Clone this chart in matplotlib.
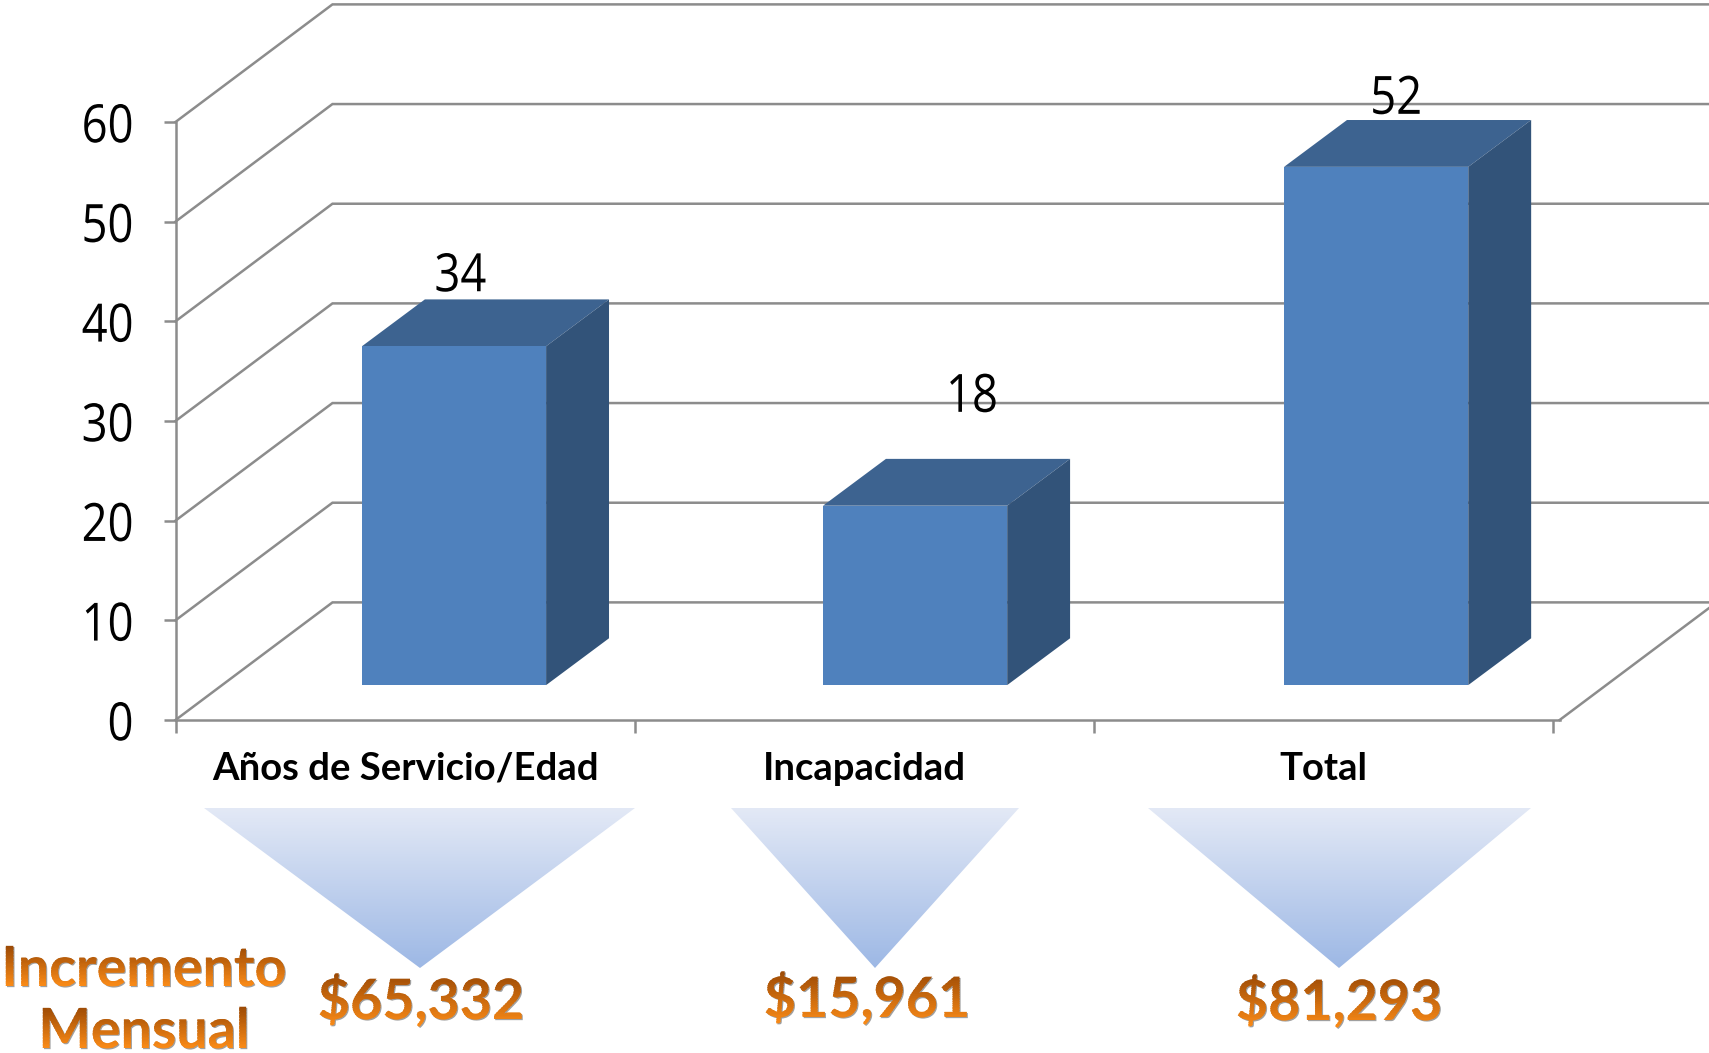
import matplotlib
matplotlib.use('Agg')
import matplotlib.pyplot as plt
import numpy as np
from matplotlib.colors import LinearSegmentedColormap, to_rgb
from matplotlib.patches import Polygon
from matplotlib.patheffects import AbstractPathEffect
from matplotlib.transforms import Affine2D, Bbox

categories = ['Años de Servicio/Edad', 'Incapacidad', 'Total']
values = [34, 18, 52]
increments = ['$65,332', '$15,961', '$81,293']
yticks = [0, 10, 20, 30, 40, 50, 60]

W, H = 1709, 1053
GREY = '#8c8c8c'

# 3d look, in axis units
depth_x = 0.3418
depth_y = 11.8
bar_left = [0.406, 1.410, 2.414]
bar_w = 0.401
bar_base = 3.5
bar_dx = 0.137
bar_dy = 4.7
label_x = [0.62, 1.734, 2.658]
label_y = [44.7, 32.6, 62.5]


class Squeeze(AbstractPathEffect):
    # narrows the glyphs, the font has no condensed cut
    def __init__(self, factor, anchor='center'):
        super().__init__()
        self.factor = factor
        self.anchor = anchor

    def draw_path(self, renderer, gc, tpath, affine, rgbFace=None):
        ext = tpath.get_extents(affine)
        cx = ext.x1 if self.anchor == 'right' else (ext.x0 + ext.x1) / 2
        squeeze = Affine2D().translate(-cx, 0).scale(self.factor, 1).translate(cx, 0)
        renderer.draw_path(gc, tpath, affine + squeeze, rgbFace)


class GradientText(AbstractPathEffect):
    # fills the glyphs band by band from top colour to bottom colour
    def __init__(self, top, bottom, n=30):
        super().__init__()
        self.top = np.array(to_rgb(top))
        self.bottom = np.array(to_rgb(bottom))
        self.n = n

    def draw_path(self, renderer, gc, tpath, affine, rgbFace=None):
        ext = tpath.get_extents(affine)
        edges = np.linspace(ext.y1, ext.y0, self.n + 1)
        for i in range(self.n):
            t = i / (self.n - 1)
            gc0 = renderer.new_gc()
            gc0.copy_properties(gc)
            gc0.set_clip_rectangle(Bbox([[ext.x0 - 2, edges[i + 1] - 0.5], [ext.x1 + 2, edges[i] + 0.5]]))
            renderer.draw_path(gc0, tpath, affine, tuple(self.top + (self.bottom - self.top) * t))
            gc0.restore()


class Shadow(AbstractPathEffect):
    def __init__(self, dx, dy, color):
        super().__init__((dx, dy))
        self.color = to_rgb(color)

    def draw_path(self, renderer, gc, tpath, affine, rgbFace=None):
        renderer.draw_path(gc, tpath, self._offset_transform(renderer) + affine, self.color)


fig = plt.figure(figsize=(W / 100, H / 100), dpi=100)

# overlay in pixel coords for the triangles below the chart
bg = fig.add_axes([0, 0, 1, 1])
bg.set_xlim(0, W)
bg.set_ylim(H, 0)
bg.axis('off')

cmap = LinearSegmentedColormap.from_list('tri', ['#e3e9f6', '#9db8e5'])
triangles = [(204, 635, 420), (731, 1019, 875), (1148, 1531, 1339)]
for x0, x1, xm in triangles:
    im = bg.imshow(np.linspace(0, 1, 200).reshape(-1, 1), cmap=cmap, aspect='auto',
                   extent=(x0, x1, 968, 808), zorder=1)
    poly = Polygon([(x0, 808), (x1, 808), (xm, 968)], transform=bg.transData, fc='none', ec='none')
    bg.add_patch(poly)
    im.set_clip_path(poly)
bg.set_xlim(0, W)
bg.set_ylim(H, 0)

ax = fig.add_axes([175.5 / W, 1 - 720 / H, (1553.2 - 175.5) / W, (720 - 122) / H])
ax.patch.set_alpha(0)
ax.set_xlim(0, 3)
ax.set_ylim(0, 60)

for s in ['top', 'right']:
    ax.spines[s].set_visible(False)
for s in ['left', 'bottom']:
    ax.spines[s].set_color(GREY)
    ax.spines[s].set_linewidth(1.8)
ax.spines['bottom'].set_bounds(0, 3.014)

# walls and floor
for v in yticks:
    ax.plot([0, depth_x, 3 + depth_x + 0.014], [v, v + depth_y, v + depth_y], color=GREY, lw=1.8,
            clip_on=False, zorder=1, solid_joinstyle='miter')
ax.plot([3.014, 3 + depth_x + 0.014], [0, depth_y], color=GREY, lw=1.8, clip_on=False, zorder=1)

ax.set_yticks(yticks)
ax.set_yticklabels([str(v) for v in yticks], fontsize=38, family='Open Sans')
for t in ax.get_yticklabels():
    t.set_path_effects([Squeeze(0.86, 'right')])
ax.tick_params(axis='y', length=9, width=1.8, color=GREY, pad=21)
ax.set_xticks([0, 1, 2, 3])
ax.set_xticklabels([])
ax.tick_params(axis='x', which='major', length=9, width=1.8, color=GREY)
ax.set_xticks([0.5, 1.5, 2.5], minor=True)
ax.set_xticklabels(categories, minor=True, fontsize=27.5, fontweight='bold', family='Lato')
ax.tick_params(axis='x', which='minor', length=0, pad=23)

for left, v in zip(bar_left, values):
    top = bar_base + v
    ax.fill([left, left + bar_w, left + bar_w + bar_dx, left + bar_dx],
            [top, top, top + bar_dy, top + bar_dy], color='#3d6390', lw=0, zorder=3, clip_on=False)
    ax.fill([left + bar_w, left + bar_w + bar_dx, left + bar_w + bar_dx, left + bar_w],
            [bar_base, bar_base + bar_dy, top + bar_dy, top], color='#325379', lw=0, zorder=3, clip_on=False)
    ax.bar(left, v, bar_w, bottom=bar_base, align='edge', color='#4f81bd', lw=0, zorder=4, clip_on=False)

for x, y, v in zip(label_x, label_y, values):
    ax.text(x, y - 0.3, str(v), ha='center', va='center', fontsize=38, family='Open Sans', color='black',
            zorder=5, clip_on=False, path_effects=[Squeeze(0.86)])

effects = [Shadow(1.5, -1.5, '#a0a0a0'), GradientText('#9c4a05', '#f98a17')]
inc_x = [421, 867, 1339]
inc_y = [1001, 999, 1002]
for x, y, t in zip(inc_x, inc_y, increments):
    bg.text(x, y, t, ha='center', va='center', fontsize=40, fontweight='bold', family='Lato',
            color='#e07a12', path_effects=effects, zorder=6)
for y, t in zip([970, 1032], ['Incremento', 'Mensual']):
    bg.text(144, y, t, ha='center', va='center', fontsize=40, fontweight='bold', family='Lato',
            color='#e07a12', path_effects=effects, zorder=6)

fig.savefig('out.png', dpi=100)
